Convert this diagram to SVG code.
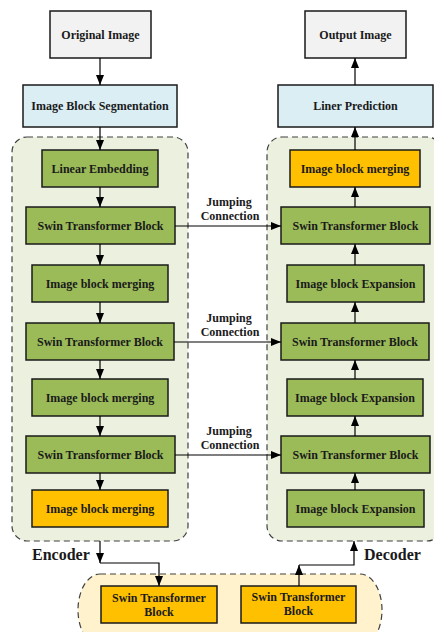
<svg xmlns="http://www.w3.org/2000/svg" width="434" height="632" viewBox="0 0 434 632">
<defs>
<marker id="ah" viewBox="0 0 10 8" refX="10" refY="4" markerWidth="10" markerHeight="8" markerUnits="userSpaceOnUse" orient="auto">
<path d="M0,0 L10,4 L0,8 Z" fill="#000"/>
</marker>
<style>
.box{stroke:#1a1a1a;stroke-width:1.5}
.grey{fill:#f2f2f2}
.blue{fill:#dbeef4}
.green{fill:#9bbb59}
.orange{fill:#ffc000}
.cont{stroke:#404040;stroke-width:1.2;stroke-dasharray:6 4}
.t{font-family:"Liberation Serif","Times New Roman",serif;font-weight:bold;font-size:12px;fill:#1a1a1a;text-anchor:middle}
.big{font-family:"Liberation Serif","Times New Roman",serif;font-weight:bold;font-size:16px;fill:#1a1a1a}
.ln{fill:none;stroke:#000;stroke-width:1.2}
</style>
</defs>
<rect width="434" height="632" fill="#fff"/>
<g id="encoder-container">
<rect class="cont" x="12" y="137" width="176" height="404" rx="15" fill="#ebf1de"/>
<text class="big" x="32" y="560">Encoder</text>
</g>
<g id="decoder-container">
<rect class="cont" x="267" y="137" width="175" height="404" rx="15" fill="#ebf1de"/>
<text class="big" x="364" y="560">Decoder</text>
</g>
<g id="bottleneck-container">
<rect class="cont" x="78" y="574" width="304" height="72" rx="22" ry="36" fill="#fff2cc"/>
</g>
<g id="original-image"><rect class="box grey" x="50" y="11" width="101" height="47"/><text class="t" x="100.5" y="38.5">Original Image</text></g>
<g id="image-block-segmentation"><rect class="box blue" x="23" y="85" width="154" height="42"/><text class="t" x="100" y="110">Image Block Segmentation</text></g>
<g id="linear-embedding"><rect class="box green" x="42" y="150" width="116" height="37"/><text class="t" x="100" y="172.5">Linear Embedding</text></g>
<g id="enc-swin-1"><rect class="box green" x="26" y="207" width="149" height="37"/><text class="t" x="100.5" y="229.5">Swin Transformer Block</text></g>
<g id="enc-merge-1"><rect class="box green" x="32" y="265" width="136" height="37"/><text class="t" x="100" y="287.5">Image block merging</text></g>
<g id="enc-swin-2"><rect class="box green" x="26" y="323" width="148" height="37"/><text class="t" x="100" y="345.5">Swin Transformer Block</text></g>
<g id="enc-merge-2"><rect class="box green" x="32" y="379" width="136" height="37"/><text class="t" x="100" y="401.5">Image block merging</text></g>
<g id="enc-swin-3"><rect class="box green" x="26" y="436" width="149" height="37"/><text class="t" x="100.5" y="458.5">Swin Transformer Block</text></g>
<g id="enc-merge-3"><rect class="box orange" x="32" y="490" width="136" height="37"/><text class="t" x="100" y="512.5">Image block merging</text></g>
<g id="output-image"><rect class="box grey" x="305" y="11" width="101" height="47"/><text class="t" x="355.5" y="38.5">Output Image</text></g>
<g id="liner-prediction"><rect class="box blue" x="278" y="85" width="155" height="42"/><text class="t" x="355.5" y="110">Liner Prediction</text></g>
<g id="dec-merge"><rect class="box orange" x="290" y="150" width="130" height="37"/><text class="t" x="355" y="172.5">Image block merging</text></g>
<g id="dec-swin-1"><rect class="box green" x="281" y="207" width="149" height="37"/><text class="t" x="355.5" y="229.5">Swin Transformer Block</text></g>
<g id="dec-expand-1"><rect class="box green" x="287" y="265" width="137" height="37"/><text class="t" x="355.5" y="287.5">Image block Expansion</text></g>
<g id="dec-swin-2"><rect class="box green" x="281" y="323" width="148" height="37"/><text class="t" x="355" y="345.5">Swin Transformer Block</text></g>
<g id="dec-expand-2"><rect class="box green" x="287" y="379" width="136" height="37"/><text class="t" x="355" y="401.5">Image block Expansion</text></g>
<g id="dec-swin-3"><rect class="box green" x="281" y="436" width="149" height="37"/><text class="t" x="355.5" y="458.5">Swin Transformer Block</text></g>
<g id="dec-expand-3"><rect class="box green" x="287" y="490" width="137" height="37"/><text class="t" x="355.5" y="512.5">Image block Expansion</text></g>
<g id="bottleneck-swin-1"><rect class="box orange" x="101" y="586" width="116" height="37"/><text class="t" x="159" y="602">Swin Transformer</text><text class="t" x="159" y="615.5">Block</text></g>
<g id="bottleneck-swin-2"><rect class="box orange" x="241" y="586" width="115" height="37"/><text class="t" x="298.5" y="601">Swin Transformer</text><text class="t" x="298.5" y="614.5">Block</text></g>
<g id="connectors">
<line class="ln" x1="100" y1="58" x2="100" y2="85" marker-end="url(#ah)"/>
<line class="ln" x1="100" y1="127" x2="100" y2="150" marker-end="url(#ah)"/>
<line class="ln" x1="100" y1="187" x2="100" y2="207" marker-end="url(#ah)"/>
<line class="ln" x1="100" y1="244" x2="100" y2="265" marker-end="url(#ah)"/>
<line class="ln" x1="100" y1="302" x2="100" y2="323" marker-end="url(#ah)"/>
<line class="ln" x1="100" y1="360" x2="100" y2="379" marker-end="url(#ah)"/>
<line class="ln" x1="100" y1="416" x2="100" y2="436" marker-end="url(#ah)"/>
<line class="ln" x1="100" y1="473" x2="100" y2="490" marker-end="url(#ah)"/>
<line class="ln" x1="355" y1="85" x2="355" y2="58" marker-end="url(#ah)"/>
<line class="ln" x1="355" y1="150" x2="355" y2="127" marker-end="url(#ah)"/>
<line class="ln" x1="355" y1="207" x2="355" y2="187" marker-end="url(#ah)"/>
<line class="ln" x1="355" y1="265" x2="355" y2="244" marker-end="url(#ah)"/>
<line class="ln" x1="355" y1="323" x2="355" y2="302" marker-end="url(#ah)"/>
<line class="ln" x1="355" y1="379" x2="355" y2="360" marker-end="url(#ah)"/>
<line class="ln" x1="355" y1="436" x2="355" y2="416" marker-end="url(#ah)"/>
<line class="ln" x1="355" y1="490" x2="355" y2="473" marker-end="url(#ah)"/>
<line class="ln" x1="175" y1="226" x2="281" y2="226" marker-end="url(#ah)"/>
<line class="ln" x1="174" y1="342" x2="281" y2="342" marker-end="url(#ah)"/>
<line class="ln" x1="175" y1="455" x2="281" y2="455" marker-end="url(#ah)"/>
<text class="t" x="229" y="206">Jumping</text><text class="t" x="230" y="219.5">Connection</text>
<text class="t" x="229" y="322">Jumping</text><text class="t" x="230" y="335.5">Connection</text>
<text class="t" x="229" y="435">Jumping</text><text class="t" x="230" y="448.5">Connection</text>
<line class="ln" x1="100" y1="541" x2="100" y2="563" marker-end="url(#ah)"/>
<polyline class="ln" points="100,563 159,563 159,586" marker-end="url(#ah)"/>
<line class="ln" x1="299" y1="586" x2="299" y2="565" marker-end="url(#ah)"/>
<polyline class="ln" points="299,565 354,565 354,541" marker-end="url(#ah)"/>
</g>
</svg>
